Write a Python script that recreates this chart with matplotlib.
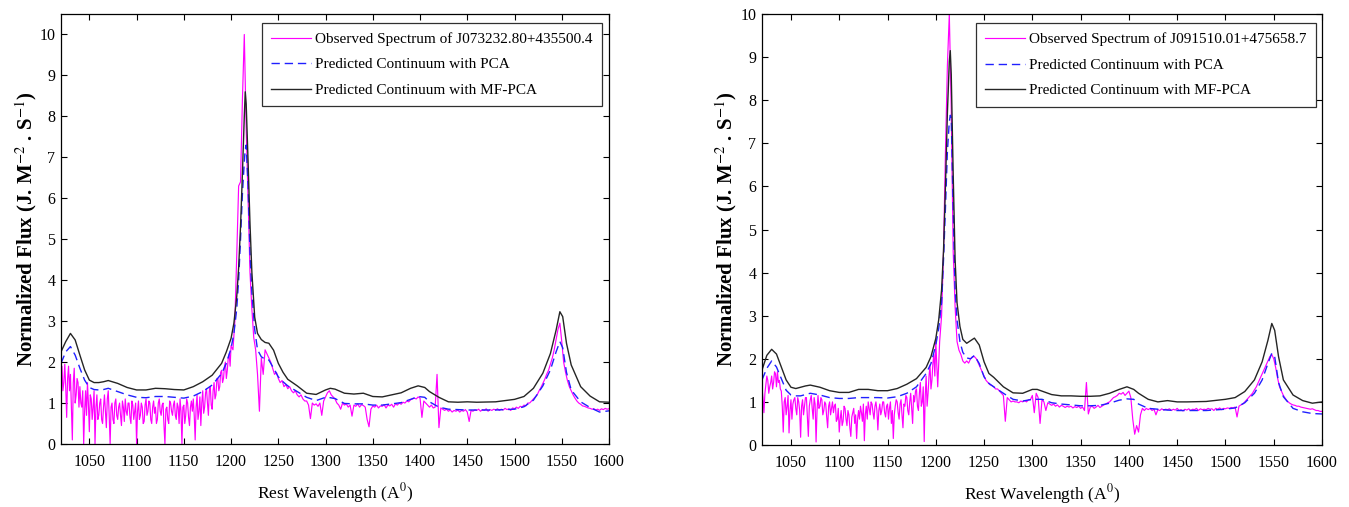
import numpy as np
import matplotlib
matplotlib.use("Agg")
import matplotlib.pyplot as plt

# ---------------- data ----------------
# observed spectra: 1 Angstrom steps over the noisy blue side (1020-1199),
# 2 Angstrom steps from 1200 to 1600
obs_wl = np.concatenate([np.arange(1020, 1200, 1), np.arange(1200, 1601, 2)])

left_obs = [
    # 1020-1199 (1 A)
    1.6, 1.9, 1.3, 1.5, 1.95, 1.4, 0.65, 1.6, 1.9, 1.3, 1.7, 0.9, 0.1, 1.5, 1.85, 1.0, 1.2, 1.6, 1.5, 0.9,
    1.4, 1.0, 0.9, 1.3, 0.0, 0.8, 1.3, 0.7, 1.5, 1.0, 0.3, 1.2, 1.1, 0.6, 0.9, 1.3, 0.0, 0.9, 1.2, 0.6,
    0.7, 1.0, 1.1, 0.6, 0.5, 0.9, 1.2, 0.8, 0.4, 1.1, 1.3, 0.7, 0.0, 0.9, 1.0, 0.6, 0.5, 1.0, 1.1, 0.7,
    0.6, 0.9, 1.0, 0.7, 0.45, 1.05, 0.9, 0.55, 1.1, 0.8, 0.7, 1.0, 1.0, 0.65, 0.5, 1.05, 0.95, 0.6, 0.8, 1.0,
    0.0, 0.8, 1.05, 0.6, 0.7, 1.0, 0.9, 0.5, 0.55, 0.95, 1.1, 0.7, 0.8, 1.05, 1.0, 0.6, 0.5, 0.9, 1.05, 0.75,
    0.9, 0.5, 0.6, 1.0, 1.1, 0.8, 0.7, 0.95, 1.0, 0.45, 0.0, 0.85, 0.9, 0.6, 0.5, 1.05, 1.0, 0.8, 0.7, 0.95,
    1.05, 0.7, 0.6, 1.0, 0.9, 0.5, 1.1, 0.8, 0.0, 0.9, 0.95, 0.5, 0.7, 1.1, 1.0, 0.65, 0.45, 0.9, 1.05, 0.8,
    1.1, 0.7, 0.1, 0.9, 1.2, 0.6, 0.8, 1.15, 0.45, 1.0, 1.3, 0.75, 0.9, 1.25, 1.35, 1.0, 0.7, 1.3, 1.4, 0.95,
    0.85, 1.3, 1.5, 1.1, 1.2, 1.6, 1.6, 1.3, 1.4, 1.75, 1.8, 1.5, 1.6, 1.9, 2.0, 1.6, 1.8, 2.1, 2.2, 1.9,
    # 1200-1600 (2 A)
    2.4, 2.3, 3.0, 4.6, 6.3, 6.4, 8.4, 10.0, 7.7, 6.0,
    4.2, 3.3, 2.6, 2.3, 1.7, 0.8, 2.1, 1.7, 2.3, 2.2,
    2.1, 2.0, 1.85, 1.7, 1.75, 1.6, 1.5, 1.55, 1.4, 1.45,
    1.35, 1.4, 1.3, 1.25, 1.3, 1.2, 1.15, 1.2, 1.1, 1.05,
    1.05, 0.95, 0.62, 1.0, 0.95, 0.98, 0.92, 1.0, 0.7, 1.05,
    1.15, 1.25, 1.3, 1.2, 1.15, 1.1, 1.0, 0.95, 0.85, 1.0,
    0.95, 0.98, 0.9, 0.95, 0.68, 0.95, 0.92, 0.98, 0.9, 0.96,
    0.94, 0.9, 0.6, 0.42, 0.85, 0.93, 0.9, 0.95, 0.88, 0.93,
    0.92, 0.96, 0.88, 0.95, 0.93, 0.97, 0.9, 0.98, 0.95, 1.0,
    0.97, 1.02, 1.0, 1.05, 1.03, 1.08, 1.1, 1.12, 1.1, 1.15,
    1.12, 0.65, 1.05, 1.0, 0.95, 0.9, 0.95, 0.88, 0.9, 1.7,
    0.4, 0.88, 0.85, 0.82, 0.85, 0.8, 0.83, 0.78, 0.82, 0.8,
    0.83, 0.78, 0.82, 0.8, 0.84, 0.78, 0.55, 0.82, 0.8, 0.83,
    0.82, 0.85, 0.8, 0.84, 0.82, 0.86, 0.8, 0.84, 0.82, 0.85,
    0.83, 0.86, 0.82, 0.85, 0.83, 0.87, 0.84, 0.86, 0.82, 0.88,
    0.86, 0.9, 0.87, 0.92, 0.9, 0.95, 0.93, 1.0, 1.0, 1.05,
    1.1, 1.15, 1.2, 1.3, 1.38, 1.48, 1.58, 1.7, 1.8, 1.95,
    2.1, 2.3, 2.55, 2.8, 2.95, 2.5, 2.0, 1.75, 1.55, 1.4,
    1.3, 1.2, 1.12, 1.05, 1.0, 0.97, 0.93, 0.92, 0.9, 0.88,
    0.87, 0.85, 0.86, 0.83, 0.85, 0.82, 0.86, 0.84, 0.87, 0.85,
    0.86,
]

right_obs = [
    # 1020-1199 (1 A)
    1.3, 1.1, 0.75, 1.2, 1.4, 1.6, 1.5, 1.2, 1.35, 1.45, 1.6, 1.3, 1.45, 1.7, 1.65, 1.35, 1.7, 1.45, 1.5, 1.3,
    1.25, 0.9, 0.3, 1.0, 1.1, 0.7, 0.9, 1.15, 0.28, 0.8, 1.05, 0.6, 0.95, 1.05, 1.1, 0.85, 0.7, 1.1, 1.0, 0.8,
    0.18, 0.9, 1.05, 0.7, 0.9, 1.1, 1.1, 0.65, 0.2, 0.9, 1.05, 1.15, 0.85, 0.6, 1.1, 0.95, 0.07, 0.8, 1.15, 0.85,
    0.9, 1.1, 1.05, 0.7, 0.8, 1.0, 0.95, 0.65, 0.4, 0.9, 1.0, 0.7, 0.85, 1.0, 0.75, 0.9, 0.95, 0.55, 0.6, 0.85,
    0.3, 0.6, 0.8, 0.45, 0.55, 0.9, 0.85, 0.6, 0.45, 0.8, 0.7, 0.4, 0.2, 0.65, 0.75, 0.85, 0.5, 0.7, 0.15, 0.6,
    0.8, 0.6, 0.9, 0.75, 0.55, 0.95, 0.1, 0.7, 0.9, 0.6, 1.0, 0.85, 0.7, 1.0, 0.95, 0.75, 0.6, 0.9, 1.0, 0.8,
    0.35, 0.8, 0.95, 0.7, 0.8, 1.0, 1.0, 0.75, 0.65, 0.9, 0.95, 0.6, 0.85, 1.0, 0.5, 0.8, 0.15, 0.7, 0.9, 1.05,
    1.0, 0.75, 0.6, 0.95, 1.05, 0.7, 0.4, 0.95, 0.9, 1.15, 1.1, 0.8, 0.7, 1.0, 1.2, 0.85, 0.5, 1.15, 1.0, 1.25,
    1.3, 0.9, 0.8, 1.2, 1.45, 0.9, 1.0, 1.35, 0.08, 1.1, 1.6, 0.9, 1.2, 1.6, 1.85, 1.3, 1.5, 1.9, 2.1, 1.6,
    # 1200-1600 (2 A)
    2.4, 1.35, 2.4, 3.0, 4.5, 6.8, 8.8, 10.0, 7.8, 4.5,
    3.2, 2.4, 2.2, 2.1, 1.95, 1.9, 1.95, 1.9, 2.0, 2.05,
    2.05, 2.0, 1.9, 1.8, 1.7, 1.6, 1.5, 1.45, 1.4, 1.38,
    1.35, 1.3, 1.3, 1.25, 1.2, 1.15, 0.55, 1.1, 1.05, 1.0,
    1.02, 1.0, 1.0, 0.98, 1.02, 1.0, 1.03, 1.0, 1.05, 1.05,
    1.15, 0.75, 1.2, 1.1, 0.5, 1.05, 1.0, 0.8, 0.98, 0.95,
    0.92, 0.95, 0.9, 0.93, 0.88, 0.92, 0.9, 0.87, 0.9, 0.88,
    0.9, 0.86, 0.89, 0.87, 0.9, 0.85, 0.88, 0.8, 1.45, 0.72,
    0.88, 0.9, 0.85, 0.88, 0.92, 0.87, 0.9, 0.93, 0.95, 0.98,
    1.0, 1.05, 1.1, 1.12, 1.15, 1.2, 1.18, 1.22, 1.15, 1.2,
    1.25, 1.1, 0.6, 0.25, 0.45, 0.3, 0.7, 0.85, 0.8, 0.85,
    0.82, 0.85, 0.8, 0.83, 0.7, 0.82, 0.8, 0.84, 0.81, 0.83,
    0.82, 0.84, 0.8, 0.83, 0.81, 0.85, 0.8, 0.82, 0.79, 0.83,
    0.81, 0.84, 0.8, 0.83, 0.82, 0.85, 0.8, 0.84, 0.82, 0.83,
    0.82, 0.85, 0.83, 0.84, 0.8, 0.85, 0.83, 0.86, 0.82, 0.85,
    0.84, 0.86, 0.85, 0.87, 0.86, 0.88, 0.65, 0.9, 0.93, 0.95,
    1.0, 1.05, 1.1, 1.15, 1.2, 1.28, 1.35, 1.45, 1.55, 1.65,
    1.75, 1.85, 1.95, 2.05, 2.1, 2.0, 1.8, 1.55, 1.35, 1.25,
    1.15, 1.08, 1.02, 0.98, 0.95, 0.93, 0.92, 0.9, 0.9, 0.88,
    0.87, 0.86, 0.85, 0.84, 0.83, 0.84, 0.82, 0.8, 0.8, 0.78,
    0.78,
]

# predicted continua, sampled at these wavelengths
cont_wl = [1020, 1025, 1030, 1035, 1040, 1045, 1050, 1055, 1060, 1065,
           1070, 1080, 1090, 1100, 1110, 1120, 1130, 1140, 1150, 1160,
           1170, 1180, 1190, 1195, 1200, 1203, 1206, 1208, 1210, 1212,
           1214, 1215, 1216, 1218, 1220, 1222, 1225, 1228, 1232, 1236,
           1240, 1245, 1250, 1255, 1260, 1270, 1280, 1290, 1300, 1305,
           1310, 1320, 1330, 1340, 1350, 1360, 1370, 1380, 1390, 1398,
           1405, 1410, 1420, 1430, 1440, 1450, 1460, 1480, 1500, 1510,
           1520, 1530, 1538, 1544, 1548, 1551, 1555, 1560, 1570, 1580,
           1590, 1600]

left_mf = [2.25, 2.50, 2.70, 2.54, 2.17, 1.81, 1.56, 1.50, 1.50, 1.52,
           1.55, 1.48, 1.38, 1.32, 1.32, 1.36, 1.35, 1.33, 1.32, 1.40,
           1.52, 1.68, 1.97, 2.25, 2.58, 2.95, 3.6, 4.3, 5.3, 6.6,
           8.0, 8.6, 8.3, 6.9, 5.4, 4.2, 3.1, 2.7, 2.55, 2.48,
           2.46, 2.29, 1.97, 1.75, 1.58, 1.42, 1.24, 1.21, 1.32, 1.36,
           1.34, 1.24, 1.22, 1.24, 1.16, 1.15, 1.20, 1.25, 1.36, 1.42,
           1.38, 1.28, 1.14, 1.03, 1.02, 1.03, 1.02, 1.03, 1.09, 1.16,
           1.36, 1.73, 2.21, 2.78, 3.23, 3.11, 2.46, 1.93, 1.40, 1.17,
           1.03, 1.02]

left_pca = [1.97, 2.25, 2.38, 2.17, 1.85, 1.56, 1.38, 1.33, 1.32, 1.33,
            1.36, 1.28, 1.20, 1.14, 1.13, 1.16, 1.16, 1.14, 1.12, 1.17,
            1.28, 1.44, 1.72, 1.97, 2.34, 2.7, 3.3, 4.0, 5.0, 6.1,
            6.9, 7.2, 7.3, 6.3, 4.7, 3.7, 2.8, 2.3, 2.13, 2.07,
            2.05, 1.85, 1.64, 1.52, 1.42, 1.28, 1.14, 1.06, 1.14, 1.13,
            1.11, 0.99, 0.98, 0.98, 0.95, 0.95, 0.98, 1.01, 1.09, 1.16,
            1.14, 1.03, 0.90, 0.85, 0.84, 0.83, 0.83, 0.83, 0.85, 0.91,
            1.07, 1.42, 1.81, 2.25, 2.50, 2.35, 1.75, 1.32, 1.03, 0.89,
            0.78, 0.81]

right_mf = [1.74, 2.08, 2.22, 2.11, 1.81, 1.51, 1.34, 1.31, 1.34, 1.37,
            1.39, 1.34, 1.26, 1.22, 1.22, 1.29, 1.29, 1.26, 1.26, 1.31,
            1.41, 1.54, 1.80, 2.05, 2.47, 2.9, 3.6, 4.5, 6.0, 7.7,
            8.9, 9.15, 8.6, 6.3, 4.3, 3.3, 2.75, 2.45, 2.36, 2.42,
            2.48, 2.32, 1.93, 1.66, 1.57, 1.35, 1.21, 1.20, 1.29, 1.29,
            1.25, 1.17, 1.14, 1.14, 1.13, 1.13, 1.14, 1.20, 1.29, 1.35,
            1.29, 1.20, 1.06, 1.00, 1.03, 1.00, 1.00, 1.01, 1.06, 1.10,
            1.24, 1.51, 1.93, 2.43, 2.82, 2.66, 2.05, 1.51, 1.16, 1.03,
            0.97, 1.00]

right_pca = [1.51, 1.78, 1.95, 1.81, 1.54, 1.27, 1.16, 1.14, 1.14, 1.17,
             1.20, 1.16, 1.10, 1.08, 1.08, 1.10, 1.10, 1.10, 1.09, 1.12,
             1.20, 1.35, 1.66, 1.89, 2.32, 2.7, 3.3, 4.3, 5.5, 6.8,
             7.5, 7.65, 7.6, 5.5, 3.6, 2.9, 2.4, 2.15, 2.02, 2.0,
             2.08, 1.89, 1.58, 1.43, 1.35, 1.20, 1.06, 1.02, 1.06, 1.06,
             1.06, 0.98, 0.95, 0.93, 0.91, 0.91, 0.92, 0.97, 1.04, 1.07,
             1.06, 0.95, 0.85, 0.83, 0.81, 0.80, 0.80, 0.80, 0.83, 0.86,
             0.98, 1.20, 1.51, 1.89, 2.13, 2.05, 1.45, 1.12, 0.85, 0.77,
             0.73, 0.72]

names = ["J073232.80+435500.4", "J091510.01+475658.7"]
x_ticks = [1050, 1100, 1150, 1200, 1250, 1300, 1350, 1400, 1450, 1500, 1550, 1600]
y_ticks = [0, 1, 2, 3, 4, 5, 6, 7, 8, 9, 10]

# ---------------- figure ----------------
SERIF = ["Liberation Serif", "DejaVu Serif"]
plt.rcParams["font.family"] = SERIF
plt.rcParams["mathtext.fontset"] = "stix"

W, H = 1349, 507
fig = plt.figure(figsize=(W / 100, H / 100), dpi=100)

def px_axes(l, r, t, b):
    return [l / W, (H - b) / H, (r - l) / W, (b - t) / H]

panels = [
    dict(rect=px_axes(61, 609, 14, 444), obs=left_obs, mf=left_mf, pca=left_pca,
         name=names[0], ylim=10.5, leg=(0.987, 0.979), ylab_x=26),
    dict(rect=px_axes(762, 1322, 14, 445), obs=right_obs, mf=right_mf, pca=right_pca,
         name=names[1], ylim=10.0, leg=(0.989, 0.978), ylab_x=726),
]

for p in panels:
    ax = fig.add_axes(p["rect"])
    ax.plot(obs_wl, p["obs"], color="#FF00FF", lw=0.85,
            label="Observed Spectrum of " + p["name"])
    ax.plot(cont_wl, p["pca"], color="#2020FF", lw=1.0, dashes=(6, 3.5),
            label="Predicted Continuum with PCA")
    ax.plot(cont_wl, p["mf"], color="#252525", lw=1.0,
            label="Predicted Continuum with MF-PCA")
    ax.set_xlim(1020, 1600)
    ax.set_ylim(0, p["ylim"])
    ax.set_xticks(x_ticks)
    ax.set_yticks(y_ticks)
    ax.tick_params(direction="in", length=4, width=0.8, top=True, right=True,
                   labelsize=11.5)
    ax.tick_params(axis="x", pad=7)
    ax.tick_params(axis="y", pad=4)
    for s in ax.spines.values():
        s.set_linewidth(0.9)
    ax.set_xlabel("Rest Wavelength (A$^{0}$)", fontsize=12.5, labelpad=8)
    fig.text(p["ylab_x"] / W, (H - 229) / H,
             "Normalized Flux (J. M$^{-2}$ . S$^{-1}$)",
             rotation=90, ha="center", va="center", fontsize=15, fontweight="bold")
    leg = ax.legend(loc="upper right", bbox_to_anchor=p["leg"], borderaxespad=0,
                    fontsize=11, handlelength=2.6, handletextpad=0.3,
                    labelspacing=0.77, borderpad=0.6, fancybox=False,
                    framealpha=1, edgecolor="#303030")
    leg.get_frame().set_linewidth(0.9)

fig.savefig("out.png", dpi=100)
